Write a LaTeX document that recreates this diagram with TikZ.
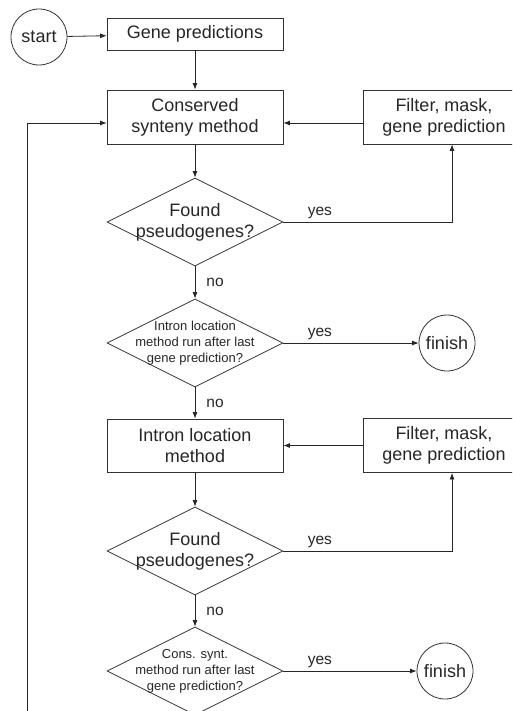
\documentclass[tikz,border=0pt]{standalone}
\usepackage{fontspec}
\setmainfont{Liberation Sans}
\usetikzlibrary{shapes,arrows.meta,positioning}

\begin{document}
\begin{tikzpicture}[x=1pt,y=-1pt]
	\useasboundingbox (0,0) rectangle (512,711);
	\clip (0,0) rectangle (512,711);
		\begin{scope}
            [
                every node/.style={text=black!85, draw=black!80, line width=0.8pt},
                styleBox/.style={
					minimum width = 176pt, minimum height = #1, align=center,
					font=\fontsize{18}{21}\selectfont
					},
				styleBox/.default=54pt,
				styleDec/.style={diamond, minimum width = 176pt, minimum height = 88pt,
					inner sep=-20pt, align=center, font=\fontsize{18}{21}\selectfont},
				styleDecSmall/.style={styleDec, font=\fontsize{13}{16}\selectfont},
				styleEnd/.style={circle, minimum size = 56pt, inner sep=0pt,
					font=\fontsize{18}{21}\selectfont},
            ]
			\node(start)[styleEnd] at (39,37) {start};
			\node(gene)[styleBox=32pt] at (195,34) {Gene predictions};
			\node(csm)[styleBox] at (195,117) {Conserved\\synteny method};
			\node(filt1)[styleBox, minimum width = 162pt] at (444,117) {Filter, mask,\\gene prediction};
			\node(found1)[styleDec] at (195,222) {Found\\pseudogenes?};

			\node(run1)[styleDecSmall] at (195,343) {Intron location\\method run after last\\gene prediction?};
			\node(fin1)[styleEnd] at (447,343) {finish};

			\node(ilm)[styleBox=53pt] at (195,445.5) {Intron location\\method};
			\node(filt2)[styleBox, minimum width = 162pt] at (444,445.5) {Filter, mask,\\gene prediction};
			\node(found2)[styleDec] at (195,551) {Found\\pseudogenes?};

			\node(run2)[styleDecSmall] at (195,671) {Cons. synt.\\method run after last\\gene prediction?};
			\node(fin2)[styleEnd] at (445,671) {finish};

			\coordinate(loop) at (27,720);
		\end{scope}
		\begin{scope}
            [->, >={Latex[length=6.5pt,width=5pt]}, draw=black!85, line width=0.8pt,
             lbl/.style={font=\fontsize{15.5}{18}\selectfont, text=black!85, inner sep=3pt}]
            \path
			(start) edge                 node{}(gene)
			(gene) edge                  node{}(csm)
			([yshift=-6pt]filt1.west) edge node{}([yshift=-6pt]csm.east)
			(csm) edge                   node{}(found1)
			(found1) edge                node[lbl, right=8pt]{no}(run1)
			(run1) edge                  node[lbl, pos=0, anchor=south west, xshift=21pt]{yes}(fin1)
			(run1) edge                  node[lbl, right=8pt]{no}(ilm)

			(filt2) edge                 node{}(ilm)
			(ilm) edge                   node{}(found2)
			(found2) edge                node[lbl, right=8pt]{no}(run2)
			(run2) edge                  node[lbl, pos=0, anchor=south west, xshift=21pt]{yes}(fin2);

			\draw (found1.east) -| ([xshift=8pt]filt1.south)
				node[lbl, pos=0, anchor=south west, xshift=21pt]{yes};
			\draw (found2.east) -| ([xshift=8pt]filt2.south)
				node[lbl, pos=0, anchor=south west, xshift=21pt]{yes};
			\draw (loop) |- ([yshift=-6pt]csm.west);
		\end{scope}
    \end{tikzpicture}
\end{document}
